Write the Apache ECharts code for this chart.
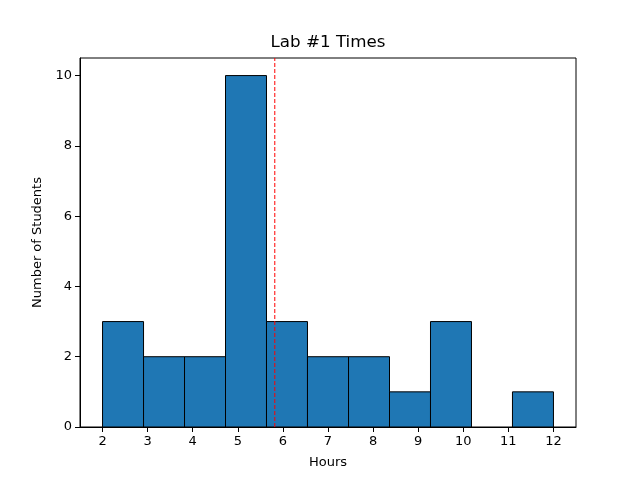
<!DOCTYPE html>
<html><head><meta charset="utf-8">
<script src="https://cdn.jsdelivr.net/npm/echarts@6/dist/echarts.min.js"></script>
<style>html,body{margin:0;padding:0;background:#fff}#c{width:640px;height:480px}</style>
</head><body><div id="c"></div>
<script>
var binEdges = [2, 2.909, 3.818, 4.727, 5.636, 6.545, 7.455, 8.364, 9.273, 10.182, 11.091, 12];
var counts = [3, 2, 2, 10, 3, 2, 2, 1, 3, 0, 1];
var xTicks = [2, 3, 4, 5, 6, 7, 8, 9, 10, 11, 12];
var yTicks = [0, 2, 4, 6, 8, 10];
var meanHours = 5.82;

var barData = counts.map(function (c, i) { return [binEdges[i], binEdges[i + 1], c]; });
var font = 'DejaVu Sans';
var chart = echarts.init(document.getElementById('c'), null, { renderer: 'canvas' });
chart.setOption({
  animation: false,
  backgroundColor: '#fff',
  graphic: [{
    type: 'text', x: 328, y: 43,
    style: { text: 'Lab #1 Times', textAlign: 'center', textVerticalAlign: 'middle',
      fontFamily: font, fontSize: 16.7, fill: '#000' }
  }],
  grid: { left: 80, right: 64, top: 58, bottom: 53, show: true, borderColor: '#000', borderWidth: 1, backgroundColor: 'transparent' },
  xAxis: {
    type: 'value', min: 1.5, max: 12.5,
    name: 'Hours', nameLocation: 'middle', nameGap: 29,
    nameTextStyle: { fontFamily: font, fontSize: 13, color: '#000' },
    axisLine: { show: true, lineStyle: { color: '#000' } },
    axisTick: { show: true, length: 5, customValues: xTicks, lineStyle: { color: '#000' } },
    axisLabel: { customValues: xTicks, fontFamily: font, fontSize: 13, color: '#000', margin: 8 },
    splitLine: { show: false }
  },
  yAxis: {
    type: 'value', min: 0, max: 10.5,
    name: 'Number of Students', nameLocation: 'middle', nameGap: 35,
    nameTextStyle: { fontFamily: font, fontSize: 13, color: '#000' },
    axisLine: { show: true, lineStyle: { color: '#000' } },
    axisTick: { show: true, length: 5, customValues: yTicks, lineStyle: { color: '#000' } },
    axisLabel: { customValues: yTicks, fontFamily: font, fontSize: 13, color: '#000', margin: 8 },
    splitLine: { show: false }
  },
  series: [{
    type: 'custom',
    data: barData,
    encode: { x: [0, 1], y: 2 },
    renderItem: function (params, api) {
      if (api.value(2) === 0) { return null; }
      var p0 = api.coord([api.value(0), 0]);
      var p1 = api.coord([api.value(1), api.value(2)]);
      return {
        type: 'rect',
        shape: { x: p0[0], y: p1[1], width: p1[0] - p0[0], height: p0[1] - p1[1] },
        style: { fill: '#1f77b4', stroke: '#000', lineWidth: 1 }
      };
    },
    z: 2
  }, {
    type: 'line',
    data: [[meanHours, 0], [meanHours, 10.5]],
    symbol: 'none',
    lineStyle: { color: '#ff0000', width: 1, type: [4, 2] },
    z: 5
  }]
});
</script></body></html>
